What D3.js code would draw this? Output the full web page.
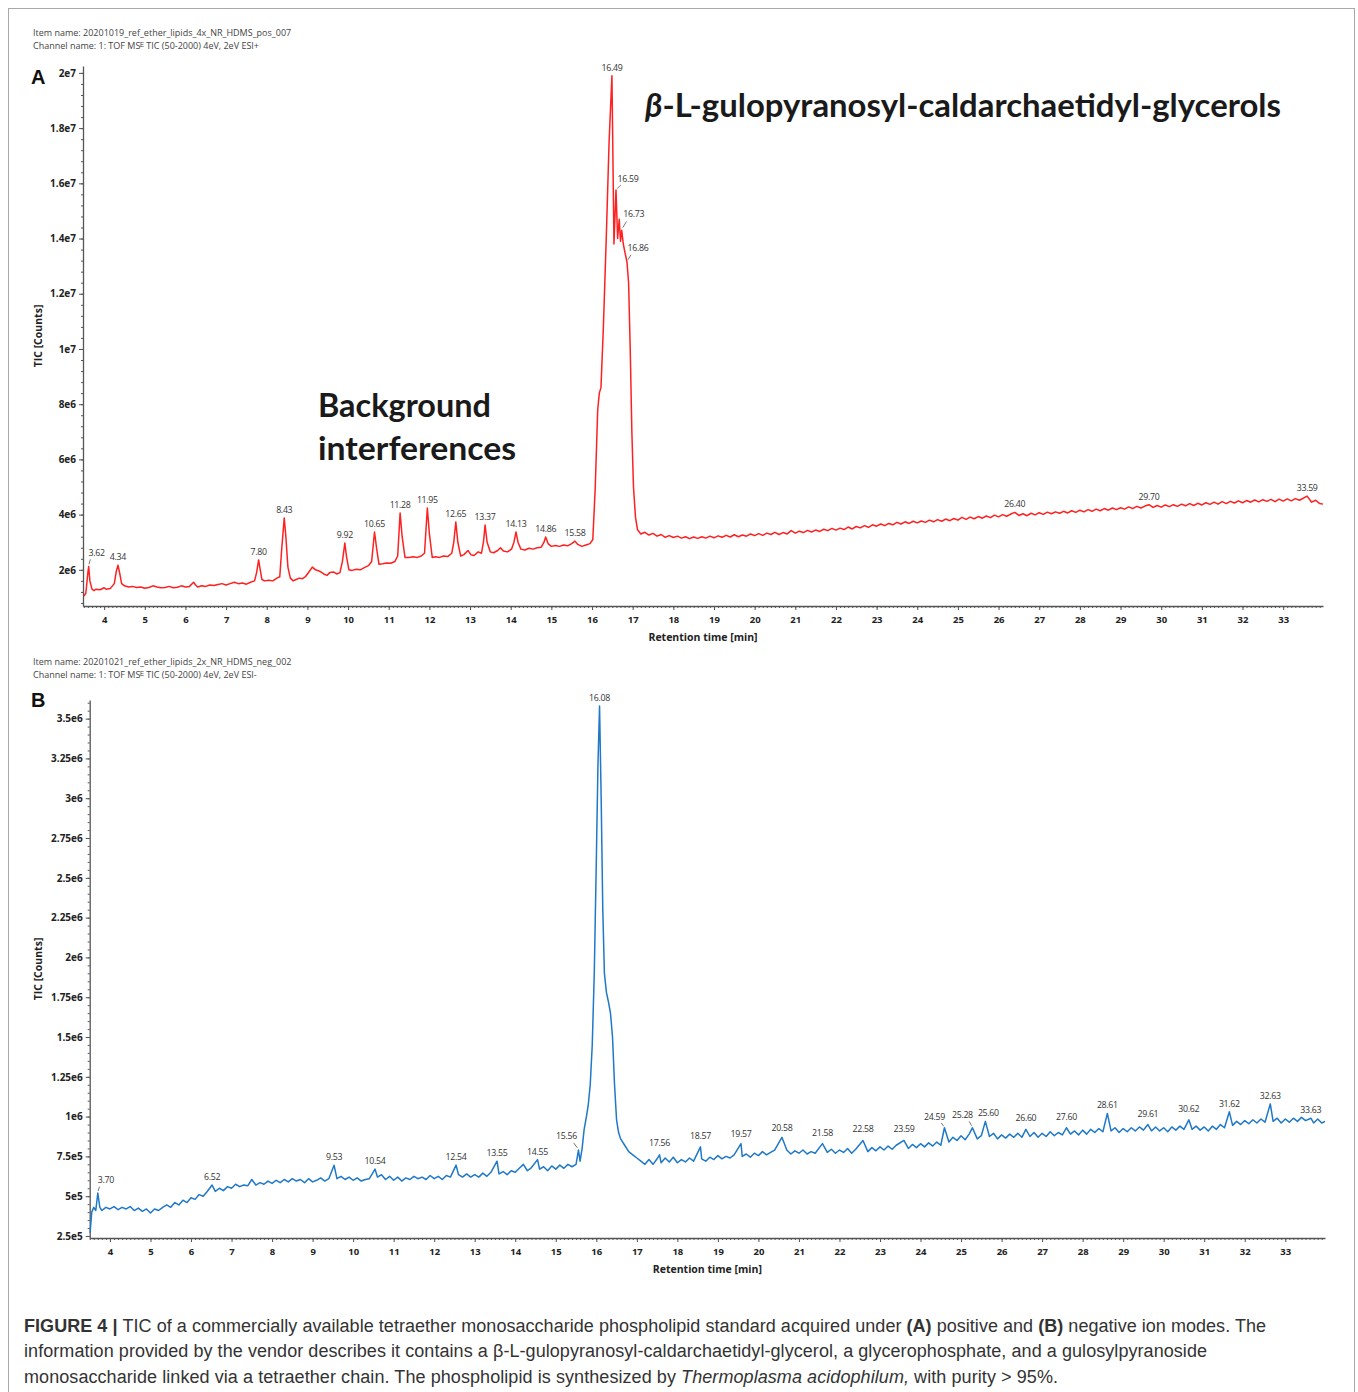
<!DOCTYPE html>
<html>
<head>
<meta charset="utf-8">
<script src="https://cdn.jsdelivr.net/npm/d3@7"></script>
<style>
  body { margin: 0; background: #fff; }
</style>
</head>
<body>
<script>
// ---------- Panel A: positive ion mode TIC (retention time [min], counts in 1e6) ----------
const traceA = [
  [3.50,1.05],[3.55,1.15],[3.60,1.9],[3.62,2.12],[3.65,1.6],[3.70,1.3],[3.75,1.25],[3.80,1.3],[3.90,1.28],
  [4.00,1.35],[4.05,1.3],[4.15,1.32],[4.25,1.5],[4.30,1.95],[4.34,2.17],[4.38,1.9],[4.43,1.5],[4.50,1.42],
  [4.60,1.38],[4.70,1.4],[4.80,1.36],[4.90,1.38],[5.00,1.33],[5.10,1.36],[5.20,1.42],[5.30,1.38],[5.40,1.35],
  [5.50,1.36],[5.60,1.4],[5.70,1.35],[5.80,1.37],[5.90,1.42],[6.00,1.38],[6.10,1.4],[6.20,1.55],[6.25,1.45],
  [6.30,1.38],[6.40,1.42],[6.50,1.4],[6.60,1.45],[6.70,1.43],[6.80,1.47],[6.90,1.5],[7.00,1.45],[7.10,1.5],
  [7.20,1.55],[7.30,1.5],[7.40,1.52],[7.50,1.48],[7.60,1.55],[7.70,1.6],[7.75,1.9],[7.80,2.36],[7.84,2.0],
  [7.88,1.65],[7.95,1.6],[8.05,1.62],[8.15,1.6],[8.25,1.7],[8.32,1.75],[8.37,2.8],[8.43,3.88],[8.47,3.2],
  [8.52,2.1],[8.58,1.7],[8.65,1.6],[8.72,1.65],[8.80,1.7],[8.88,1.68],[8.95,1.75],[9.05,1.95],[9.12,2.1],
  [9.20,2.0],[9.30,1.95],[9.40,1.85],[9.48,1.8],[9.55,1.9],[9.65,1.92],[9.72,1.85],[9.80,1.9],[9.86,2.3],
  [9.92,2.97],[9.96,2.5],[10.02,2.0],[10.10,1.98],[10.20,2.02],[10.30,2.0],[10.40,2.08],[10.50,2.15],
  [10.58,2.3],[10.65,3.37],[10.70,2.8],[10.76,2.2],[10.85,2.22],[10.95,2.25],[11.05,2.24],[11.15,2.3],
  [11.22,2.5],[11.28,4.06],[11.33,3.2],[11.40,2.45],[11.50,2.45],[11.60,2.47],[11.70,2.45],[11.80,2.5],
  [11.88,2.6],[11.95,4.24],[12.00,3.3],[12.07,2.45],[12.15,2.47],[12.25,2.45],[12.35,2.5],[12.45,2.48],
  [12.55,2.6],[12.60,3.0],[12.65,3.73],[12.70,3.0],[12.77,2.5],[12.85,2.55],[12.95,2.7],[13.02,2.55],
  [13.10,2.52],[13.20,2.65],[13.28,2.6],[13.33,3.0],[13.37,3.62],[13.42,3.0],[13.50,2.65],[13.58,2.62],
  [13.68,2.7],[13.75,2.8],[13.82,2.68],[13.92,2.65],[14.02,2.75],[14.08,3.0],[14.13,3.37],[14.18,3.0],
  [14.25,2.75],[14.35,2.72],[14.45,2.78],[14.55,2.75],[14.65,2.8],[14.75,2.82],[14.82,3.0],[14.86,3.19],
  [14.92,2.95],[15.00,2.85],[15.10,2.88],[15.20,2.85],[15.30,2.9],[15.40,2.87],[15.50,2.95],[15.58,3.04],
  [15.65,2.92],[15.75,2.85],[15.85,2.9],[15.95,2.95],[16.02,3.1],[16.08,5.0],[16.14,7.8],[16.18,8.4],
  [16.22,8.6],[16.28,10.8],[16.35,14.0],[16.42,17.5],[16.49,19.9],[16.54,13.8],[16.59,15.76],[16.63,14.0],
  [16.67,14.7],[16.70,13.9],[16.73,14.3],[16.77,13.8],[16.81,13.5],[16.86,13.15],[16.90,12.4],[16.94,10.0],
  [16.98,7.0],[17.02,5.0],[17.07,3.9],[17.12,3.45],[17.20,3.3],[17.3,3.36],[17.4,3.26],[17.5,3.32],
  [17.6,3.22],[17.7,3.28],[17.8,3.18],[17.9,3.24],[18.0,3.17],[18.1,3.22],[18.2,3.15],[18.3,3.2],[18.4,3.13],
  [18.5,3.19],[18.6,3.14],[18.7,3.2],[18.8,3.15],[18.9,3.22],[19.0,3.16],[19.1,3.23],[19.2,3.18],[19.3,3.25],
  [19.4,3.19],[19.5,3.27],[19.6,3.2],[19.7,3.26],[19.8,3.22],[19.9,3.3],[20.0,3.24],[20.1,3.31],[20.2,3.25],
  [20.3,3.33],[20.4,3.28],[20.5,3.36],[20.6,3.28],[20.7,3.35],[20.8,3.3],[20.9,3.42],[21.0,3.33],[21.1,3.4],
  [21.2,3.35],[21.3,3.43],[21.4,3.37],[21.5,3.44],[21.6,3.39],[21.7,3.47],[21.8,3.42],[21.9,3.5],[22.0,3.44],
  [22.1,3.51],[22.2,3.46],[22.3,3.55],[22.4,3.48],[22.5,3.57],[22.6,3.52],[22.7,3.6],[22.8,3.54],[22.9,3.63],
  [23.0,3.58],[23.1,3.66],[23.2,3.6],[23.3,3.68],[23.4,3.63],[23.5,3.72],[23.6,3.66],[23.7,3.74],[23.8,3.68],
  [23.9,3.76],[24.0,3.7],[24.1,3.77],[24.2,3.72],[24.3,3.8],[24.4,3.74],[24.5,3.82],[24.6,3.76],[24.7,3.84],
  [24.8,3.78],[24.9,3.86],[25.0,3.8],[25.1,3.9],[25.2,3.83],[25.3,3.91],[25.4,3.85],[25.5,3.93],[25.6,3.87],
  [25.7,3.95],[25.8,3.89],[25.9,3.98],[26.0,3.92],[26.1,4.0],[26.2,3.94],[26.3,4.02],[26.4,4.08],[26.5,3.97],
  [26.6,4.03],[26.7,3.96],[26.8,4.05],[26.9,3.99],[27.0,4.07],[27.1,4.01],[27.2,4.09],[27.3,4.03],[27.4,4.1],
  [27.5,4.05],[27.6,4.12],[27.7,4.06],[27.8,4.14],[27.9,4.08],[28.0,4.16],[28.1,4.1],[28.2,4.18],[28.3,4.12],
  [28.4,4.2],[28.5,4.14],[28.6,4.22],[28.7,4.16],[28.8,4.24],[28.9,4.18],[29.0,4.25],[29.1,4.2],[29.2,4.28],
  [29.3,4.22],[29.4,4.3],[29.5,4.24],[29.6,4.31],[29.7,4.36],[29.8,4.26],[29.9,4.33],[30.0,4.27],[30.1,4.35],
  [30.2,4.29],[30.3,4.36],[30.4,4.3],[30.5,4.38],[30.6,4.32],[30.7,4.4],[30.8,4.33],[30.9,4.41],[31.0,4.35],
  [31.1,4.43],[31.2,4.37],[31.3,4.45],[31.4,4.38],[31.5,4.47],[31.6,4.4],[31.7,4.48],[31.8,4.42],[31.9,4.5],
  [32.0,4.43],[32.1,4.51],[32.2,4.45],[32.3,4.53],[32.4,4.46],[32.5,4.54],[32.6,4.48],[32.7,4.55],[32.8,4.47],
  [32.9,4.56],[33.0,4.49],[33.1,4.57],[33.2,4.5],[33.3,4.58],[33.4,4.52],[33.59,4.67],[33.7,4.45],[33.8,4.52],
  [33.9,4.4],[33.98,4.38]
];
const peakLabelsA = ["3.62","4.34","7.80","8.43","9.92","10.65","11.28","11.95","12.65","13.37","14.13",
  "14.86","15.58","16.49","16.59","16.73","16.86","26.40","29.70","33.59"];
const xTicksA = [4,5,6,7,8,9,10,11,12,13,14,15,16,17,18,19,20,21,22,23,24,25,26,27,28,29,30,31,32,33];
const yTicksA = [2,4,6,8,10,12,14,16,18,20];
const yTickLabelsA = ["2e6","4e6","6e6","8e6","1e7","1.2e7","1.4e7","1.6e7","1.8e7","2e7"];

// ---------- Panel B: negative ion mode TIC (retention time [min], counts in 1e5) ----------
const traceB = [
  [3.51,2.7],[3.55,4.0],[3.6,4.3],[3.65,4.1],[3.70,5.2],[3.75,4.3],[3.8,4.1],[3.9,4.3],[4.0,4.2],[4.1,4.35],
  [4.2,4.15],[4.3,4.3],[4.4,4.2],[4.5,4.35],[4.6,4.1],[4.7,4.25],[4.8,4.05],[4.9,4.2],[5.0,3.95],[5.1,4.2],
  [5.2,4.1],[5.3,4.3],[5.4,4.45],[5.5,4.3],[5.6,4.6],[5.7,4.45],[5.8,4.75],[5.9,4.6],[6.0,4.9],[6.1,4.8],
  [6.2,5.1],[6.3,5.0],[6.4,5.3],[6.52,5.7],[6.6,5.3],[6.7,5.5],[6.8,5.35],[6.9,5.6],[7.0,5.5],[7.1,5.75],
  [7.2,5.6],[7.3,5.7],[7.4,5.65],[7.5,6.05],[7.6,5.7],[7.7,5.85],[7.8,5.75],[7.9,5.95],[8.0,5.8],[8.1,6.0],
  [8.2,5.85],[8.3,6.05],[8.4,5.9],[8.5,6.1],[8.6,5.95],[8.7,6.05],[8.8,5.85],[8.9,6.1],[9.0,5.9],[9.1,6.0],
  [9.2,6.15],[9.3,5.95],[9.4,6.1],[9.53,6.95],[9.6,6.1],[9.7,6.25],[9.8,6.05],[9.9,6.2],[10.0,6.0],[10.1,6.15],
  [10.2,5.95],[10.3,6.05],[10.4,6.1],[10.54,6.7],[10.6,6.2],[10.7,6.35],[10.8,6.05],[10.9,6.25],[11.0,6.0],
  [11.1,6.2],[11.2,5.95],[11.3,6.15],[11.4,6.05],[11.5,6.25],[11.6,6.1],[11.7,6.2],[11.8,6.05],[11.9,6.3],
  [12.0,6.1],[12.1,6.25],[12.2,6.05],[12.3,6.3],[12.4,6.2],[12.54,6.95],[12.6,6.35],[12.7,6.2],[12.8,6.4],
  [12.9,6.2],[13.0,6.35],[13.1,6.2],[13.2,6.45],[13.3,6.25],[13.4,6.5],[13.55,7.2],[13.6,6.4],[13.7,6.55],
  [13.8,6.35],[13.9,6.6],[14.0,6.5],[14.1,6.75],[14.2,7.0],[14.3,6.6],[14.4,6.8],[14.55,7.3],[14.6,6.7],
  [14.7,6.85],[14.8,6.6],[14.9,6.9],[15.0,6.7],[15.1,6.95],[15.2,6.75],[15.3,7.0],[15.4,6.85],[15.5,7.0],
  [15.56,7.9],[15.6,7.2],[15.65,8.0],[15.7,9.2],[15.75,9.9],[15.8,10.7],[15.85,12.0],[15.9,14.5],[15.95,19.0],
  [16.0,26.0],[16.04,32.0],[16.08,35.8],[16.12,30.0],[16.16,23.0],[16.2,19.0],[16.25,17.8],[16.3,17.2],
  [16.35,16.5],[16.4,15.0],[16.45,12.0],[16.5,9.8],[16.55,9.0],[16.6,8.6],[16.7,8.2],[16.8,7.8],[16.9,7.6],
  [17.0,7.4],[17.1,7.2],[17.2,7.0],[17.3,7.3],[17.4,7.0],[17.5,7.35],[17.56,7.6],[17.6,7.1],[17.7,7.4],
  [17.8,7.15],[17.9,7.45],[18.0,7.1],[18.1,7.3],[18.2,7.15],[18.3,7.4],[18.4,7.2],[18.57,8.1],[18.6,7.35],
  [18.7,7.2],[18.8,7.45],[18.9,7.3],[19.0,7.55],[19.1,7.35],[19.2,7.5],[19.3,7.4],[19.4,7.6],[19.57,8.3],
  [19.6,7.5],[19.7,7.65],[19.8,7.45],[19.9,7.7],[20.0,7.55],[20.1,7.8],[20.2,7.6],[20.3,7.75],[20.4,7.9],
  [20.58,8.7],[20.7,7.9],[20.8,7.65],[20.9,7.85],[21.0,7.7],[21.1,7.9],[21.2,7.65],[21.3,7.8],[21.4,7.7],
  [21.58,8.3],[21.7,7.75],[21.8,7.95],[21.9,7.7],[22.0,7.9],[22.1,7.75],[22.2,8.0],[22.3,7.7],[22.4,7.95],
  [22.58,8.5],[22.7,7.8],[22.8,8.05],[22.9,7.85],[23.0,8.1],[23.1,7.9],[23.2,8.15],[23.3,7.95],[23.4,8.2],
  [23.59,8.5],[23.7,8.0],[23.8,8.25],[23.9,8.05],[24.0,8.3],[24.1,8.1],[24.2,8.35],[24.3,8.15],[24.4,8.4],
  [24.5,8.2],[24.59,9.3],[24.7,8.4],[24.8,8.7],[24.9,8.5],[25.0,8.8],[25.1,8.55],[25.2,8.9],[25.28,9.3],
  [25.4,8.6],[25.5,8.8],[25.60,9.7],[25.7,8.75],[25.8,8.95],[25.9,8.6],[26.0,8.85],[26.1,8.65],[26.2,8.9],
  [26.3,8.7],[26.4,8.95],[26.5,8.7],[26.60,9.2],[26.7,8.75],[26.8,9.0],[26.9,8.7],[27.0,8.95],[27.1,8.75],
  [27.2,9.05],[27.3,8.8],[27.4,9.0],[27.5,8.85],[27.60,9.3],[27.7,8.9],[27.8,9.1],[27.9,8.85],[28.0,9.15],
  [28.1,8.9],[28.2,9.2],[28.3,9.0],[28.4,9.25],[28.5,9.05],[28.61,10.2],[28.7,9.1],[28.8,9.3],[28.9,9.0],
  [29.0,9.25],[29.1,9.05],[29.2,9.3],[29.3,9.1],[29.4,9.35],[29.5,9.15],[29.61,9.5],[29.7,9.1],[29.8,9.35],
  [29.9,9.1],[30.0,9.3],[30.1,9.05],[30.2,9.35],[30.3,9.15],[30.4,9.4],[30.5,9.2],[30.62,9.8],[30.7,9.2],
  [30.8,9.4],[30.9,9.15],[31.0,9.35],[31.1,9.1],[31.2,9.4],[31.3,9.2],[31.4,9.5],[31.5,9.3],[31.62,10.3],
  [31.7,9.45],[31.8,9.7],[31.9,9.5],[32.0,9.75],[32.1,9.55],[32.2,9.8],[32.3,9.6],[32.4,9.85],[32.5,9.65],
  [32.63,10.8],[32.7,9.7],[32.8,9.9],[32.9,9.6],[33.0,9.85],[33.1,9.65],[33.2,9.9],[33.3,9.7],[33.4,9.95],
  [33.5,9.75],[33.63,9.9],[33.7,9.6],[33.8,9.85],[33.9,9.6],[33.98,9.7]
];
const peakLabelsB = ["3.70","6.52","9.53","10.54","12.54","13.55","14.55","15.56","16.08","17.56","18.57",
  "19.57","20.58","21.58","22.58","23.59","24.59","25.28","25.60","26.60","27.60","28.61","29.61","30.62",
  "31.62","32.63","33.63"];
const xTicksB = xTicksA;
const yTicksB = [2.5,5,7.5,10,12.5,15,17.5,20,22.5,25,27.5,30,32.5,35];
const yTickLabelsB = ["2.5e5","5e5","7.5e5","1e6","1.25e6","1.5e6","1.75e6","2e6","2.25e6","2.5e6",
  "2.75e6","3e6","3.25e6","3.5e6"];

const W = 1358, H = 1392;
const svg = d3.select("body").append("svg").attr("width", W).attr("height", H)
  .attr("font-family", "'Open Sans', sans-serif");

// figure frame
svg.append("rect").attr("x", 8.5).attr("y", 8.5).attr("width", 1346).attr("height", 1390)
  .attr("fill", "none").attr("stroke", "#a8a8a8").attr("stroke-width", 1);

// label placement tweaks for annotated apexes that sit on a shoulder (dx, dy from the apex, with leader)
const leaderA = { "3.62": [8, -11], "16.59": [12, -8], "16.73": [12, -13], "16.86": [11, -11] };
const leaderB = { "3.70": [8, -10], "15.56": [-12, -11], "24.59": [-10, -8], "25.28": [-10, -10] };
const offsetB = { "25.60": [3, -5], "17.56": [0, -9], "18.57": [0, -8], "19.57": [0, -7], "20.58": [0, -6],
  "21.58": [0, -8], "22.58": [0, -8], "23.59": [0, -8], "26.60": [0, -8], "27.60": [0, -8], "29.61": [0, -8],
  "30.62": [0, -8] };

function drawPanel(cfg) {
  const g = svg.append("g");
  const x = d3.scaleLinear().domain(cfg.xDomain).range(cfg.xRange);
  const y = d3.scaleLinear().domain(cfg.yDomain).range(cfg.yRange);

  // headers
  g.append("text").attr("x", 33).attr("y", cfg.headerY).attr("font-size", 9).attr("fill", "#444")
    .text(cfg.itemName);
  g.append("text").attr("x", 33).attr("y", cfg.headerY + 12.5).attr("font-size", 9).attr("fill", "#444")
    .text(cfg.channelName);
  g.append("text").attr("x", 31).attr("y", cfg.letterY).attr("font-size", 20).attr("font-weight", 700)
    .attr("font-family", "'Liberation Sans', Arial, sans-serif").attr("fill", "#111").text(cfg.letter);

  const axisColor = "#555";
  // x axis: minor then major
  const xMinor = d3.range(Math.ceil(cfg.xDomain[0] * 10) / 10, cfg.xDomain[1], 0.1);
  g.append("g").attr("transform", `translate(0,${cfg.yRange[0]})`)
    .call(d3.axisBottom(x).tickValues(xMinor).tickSize(2).tickFormat(""))
    .call(a => a.select(".domain").remove())
    .call(a => a.selectAll("line").attr("stroke", axisColor));
  const xa = g.append("g").attr("transform", `translate(0,${cfg.yRange[0]})`)
    .call(d3.axisBottom(x).tickValues(cfg.xTicks).tickSize(4).tickPadding(6).tickSizeOuter(0)
      .tickFormat(d => String(d)));
  xa.select(".domain").attr("stroke", axisColor).attr("stroke-width", 1.3);
  xa.selectAll("line").attr("stroke", axisColor);
  xa.selectAll("text").attr("font-size", 9.5).attr("font-weight", 700).attr("fill", "#222")
    .attr("font-family", "'Open Sans', sans-serif");

  // y axis: minor then major
  const yMinor = d3.range(cfg.yMinorStart, cfg.yDomain[1], cfg.yMinorStep);
  g.append("g").attr("transform", `translate(${cfg.xRange[0]},0)`)
    .call(d3.axisLeft(y).tickValues(yMinor).tickSize(2).tickFormat(""))
    .call(a => a.select(".domain").remove())
    .call(a => a.selectAll("line").attr("stroke", axisColor));
  const ya = g.append("g").attr("transform", `translate(${cfg.xRange[0]},0)`)
    .call(d3.axisLeft(y).tickValues(cfg.yTicks).tickSize(4).tickPadding(3).tickSizeOuter(0)
      .tickFormat((d, i) => cfg.yTickLabels[i]));
  ya.select(".domain").attr("stroke", axisColor).attr("stroke-width", 1.3);
  ya.selectAll("line").attr("stroke", axisColor);
  ya.selectAll("text").attr("font-size", 10).attr("font-weight", 700).attr("fill", "#222")
    .attr("font-family", "'Open Sans', sans-serif");

  // axis titles
  g.append("text").attr("x", (cfg.xRange[0] + cfg.xRange[1]) / 2).attr("y", cfg.yRange[0] + 35)
    .attr("text-anchor", "middle").attr("font-size", 10.5).attr("font-weight", 700).attr("fill", "#222")
    .text("Retention time [min]");
  g.append("text")
    .attr("transform", `translate(42,${(cfg.yRange[0] + cfg.yRange[1]) / 2}) rotate(-90)`)
    .attr("text-anchor", "middle").attr("font-size", 10.5).attr("font-weight", 700).attr("fill", "#222")
    .text("TIC [Counts]");

  // trace
  const line = d3.line().x(d => x(d[0])).y(d => y(d[1]));
  g.append("path").datum(cfg.trace).attr("d", line).attr("fill", "none")
    .attr("stroke", cfg.color).attr("stroke-width", 1.5).attr("stroke-linejoin", "round");

  // apex labels
  cfg.labels.forEach(lbl => {
    const t = +lbl;
    const pt = cfg.trace.reduce((a, b) => Math.abs(b[0] - t) < Math.abs(a[0] - t) ? b : a);
    const px = x(pt[0]), py = y(pt[1]);
    let dx = 0, dy = -5, lead = false;
    if (cfg.leaders[lbl]) { [dx, dy] = cfg.leaders[lbl]; lead = true; }
    else if (cfg.offsets && cfg.offsets[lbl]) { [dx, dy] = cfg.offsets[lbl]; }
    const lx = px + dx, ly = py + dy;
    g.append("text").attr("x", lx).attr("y", ly).attr("text-anchor", "middle")
      .attr("font-size", 8.8).attr("fill", "#333").attr("letter-spacing", -0.3).text(lbl);
    if (lead) {
      const ex = lx + (dx > 0 ? -6 : 6), ey = ly + 2;
      g.append("line")
        .attr("x1", px + (ex - px) * 0.2).attr("y1", py + (ey - py) * 0.25)
        .attr("x2", px + (ex - px) * 0.8).attr("y2", py + (ey - py) * 0.8)
        .attr("stroke", "#555").attr("stroke-width", 0.8);
    }
  });
  return { g, x, y };
}

const pA = drawPanel({
  letter: "A", letterY: 84, headerY: 36,
  itemName: "Item name: 20201019_ref_ether_lipids_4x_NR_HDMS_pos_007",
  channelName: "Channel name: 1: TOF MSᴱ TIC (50-2000) 4eV, 2eV ESI+",
  xDomain: [3.48, 33.98], xRange: [83, 1323],
  yDomain: [0.69, 20.25], yRange: [606, 66],
  xTicks: xTicksA, yTicks: yTicksA, yTickLabels: yTickLabelsA,
  yMinorStart: 0.8, yMinorStep: 0.4,
  trace: traceA, color: "#ff2020", labels: peakLabelsA, leaders: leaderA
});

const pB = drawPanel({
  letter: "B", letterY: 707, headerY: 665,
  itemName: "Item name: 20201021_ref_ether_lipids_2x_NR_HDMS_neg_002",
  channelName: "Channel name: 1: TOF MSᴱ TIC (50-2000) 4eV, 2eV ESI-",
  xDomain: [3.5, 33.98], xRange: [89.7, 1325],
  yDomain: [2.374, 36.17], yRange: [1238, 700],
  xTicks: xTicksB, yTicks: yTicksB, yTickLabels: yTickLabelsB,
  yMinorStart: 2.5, yMinorStep: 0.5,
  trace: traceB, color: "#1f78c8", labels: peakLabelsB, leaders: leaderB, offsets: offsetB
});

// panel A annotations
const ann = pA.g.append("g").attr("font-family", "Lato, 'Open Sans', sans-serif").attr("font-weight", 700)
  .attr("fill", "#1a1a1a");
const t1 = ann.append("text").attr("x", 645).attr("y", 117).attr("font-size", 32)
  .attr("textLength", 636).attr("lengthAdjust", "spacingAndGlyphs");
t1.append("tspan").attr("font-style", "italic").text("β");
t1.append("tspan").text("-L-gulopyranosyl-caldarchaetidyl-glycerols");
ann.append("text").attr("x", 318).attr("y", 417).attr("font-size", 32)
  .attr("textLength", 173).attr("lengthAdjust", "spacingAndGlyphs").text("Background");
ann.append("text").attr("x", 318).attr("y", 460).attr("font-size", 32)
  .attr("textLength", 198).attr("lengthAdjust", "spacingAndGlyphs").text("interferences");

// caption
const cap = svg.append("g").attr("font-family", "'Liberation Sans', Arial, sans-serif").attr("font-size", 18)
  .attr("fill", "#333");
const c1 = cap.append("text").attr("x", 24).attr("y", 1332)
  .attr("textLength", 1242).attr("lengthAdjust", "spacing");
c1.append("tspan").attr("font-weight", 700).text("FIGURE 4 | ");
c1.append("tspan").text("TIC of a commercially available tetraether monosaccharide phospholipid standard acquired under ");
c1.append("tspan").attr("font-weight", 700).text("(A)");
c1.append("tspan").text(" positive and ");
c1.append("tspan").attr("font-weight", 700).text("(B)");
c1.append("tspan").text(" negative ion modes. The");
cap.append("text").attr("x", 24).attr("y", 1357)
  .attr("textLength", 1183).attr("lengthAdjust", "spacing")
  .text("information provided by the vendor describes it contains a β-L-gulopyranosyl-caldarchaetidyl-glycerol, a glycerophosphate, and a gulosylpyranoside");
const c3 = cap.append("text").attr("x", 24).attr("y", 1383)
  .attr("textLength", 1034).attr("lengthAdjust", "spacing");
c3.append("tspan").text("monosaccharide linked via a tetraether chain. The phospholipid is synthesized by ");
c3.append("tspan").attr("font-style", "italic").text("Thermoplasma acidophilum,");
c3.append("tspan").text(" with purity > 95%.");
</script>
</body>
</html>
